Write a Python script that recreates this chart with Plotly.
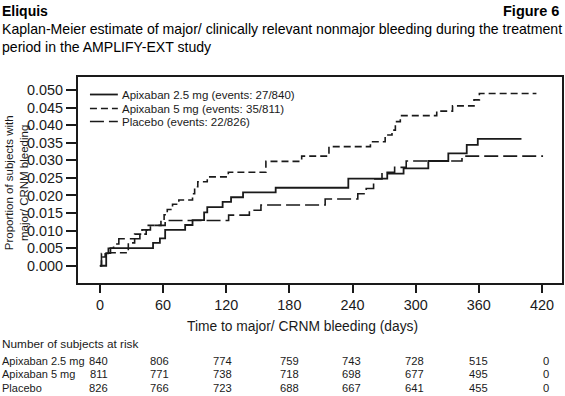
import plotly.graph_objects as go

# ---- data ----
days_25 = [0, 6, 10, 50.5, 57, 62, 81, 88, 99, 102, 116.6, 124.6, 136, 167, 236, 273, 288.5, 312, 331, 348.5, 359, 400.5]
cum_25 = [0, 0.0036, 0.0050, 0.0065, 0.0078, 0.0102, 0.0116, 0.0130, 0.0152, 0.0167, 0.0182, 0.0195, 0.0209, 0.0222, 0.0248, 0.0262, 0.0277, 0.0298, 0.0320, 0.0344, 0.0361, 0.0361]

days_5 = [0, 1.5, 5, 27, 33, 40, 45, 58, 61, 64, 69, 75, 88, 90, 93, 102, 122, 157.7, 191.7, 217.6, 257, 271, 277.5, 280.7, 285.4, 320, 335, 355.4, 360.5, 414.7]
cum_5 = [0, 0.0025, 0.0037, 0.0065, 0.0090, 0.0102, 0.0115, 0.0130, 0.0145, 0.0160, 0.0175, 0.0187, 0.0205, 0.0225, 0.0239, 0.0253, 0.0266, 0.0297, 0.0312, 0.0339, 0.0353, 0.0372, 0.0386, 0.0410, 0.0427, 0.0440, 0.0455, 0.0472, 0.0490, 0.0490]

days_pl = [0, 1.5, 8, 13, 18, 38, 44, 48, 62, 122.3, 142, 153, 214, 245, 253, 260, 268, 280, 291, 344, 421]
cum_pl = [0, 0.0035, 0.0050, 0.0062, 0.0077, 0.0090, 0.0102, 0.0115, 0.0129, 0.0144, 0.0158, 0.0173, 0.0190, 0.0205, 0.0220, 0.0247, 0.0266, 0.0280, 0.0298, 0.0312, 0.0312]

series_names = ["Apixaban 2.5 mg (events: 27/840)",
                "Apixaban 5 mg (events: 35/811)",
                "Placebo (events: 22/826)"]
row_labels = ["Apixaban 2.5 mg", "Apixaban 5 mg", "Placebo"]

atrisk_times = [0, 60, 120, 180, 240, 300, 360, 420]
atrisk_25 = [840, 806, 774, 759, 743, 728, 515, 0]
atrisk_5 = [811, 771, 738, 718, 698, 677, 495, 0]
atrisk_pl = [826, 766, 723, 688, 667, 641, 455, 0]

x_ticks = [0, 60, 120, 180, 240, 300, 360, 420]
y_ticks = [0.000, 0.005, 0.010, 0.015, 0.020, 0.025, 0.030, 0.035, 0.040, 0.045, 0.050]

# ---- styling ----
FONT = "Liberation Sans, Arial, sans-serif"
INK = "#1a1a1a"
styles = [dict(color=INK, width=1.8, dash="solid"),
          dict(color=INK, width=1.6, dash="7px,4px"),
          dict(color=INK, width=1.6, dash="14px,5px")]
col_shift = [-1, -4, -4, 0, -1, -1, 0, 4]   # pixel nudges of the at-risk columns

fig = go.Figure()
for xs, ys, name, st in zip([days_25, days_5, days_pl], [cum_25, cum_5, cum_pl], series_names, styles):
    fig.add_trace(go.Scatter(x=xs, y=ys, mode="lines", line=dict(shape="hv", **st),
                             name=name, showlegend=False, hoverinfo="skip"))

W, H = 565, 396
ml, mr, mt, mb = 78, 1, 77, 113
pw, ph = W - ml - mr, H - mt - mb

def px(xp):
    return (xp - ml) / pw

def py(yp):
    return (H - mb - yp) / ph

annotations = []
shapes = []

def label(text, x, y, size, anchor="left", **kw):
    annotations.append(dict(text=text, xref="paper", yref="paper", x=px(x), y=py(y),
                            xanchor=anchor, yanchor="middle", showarrow=False,
                            font=dict(family=FONT, size=size, color=kw.pop("color", INK)), **kw))

# manual legend
leg_rows = [94.5, 108.5, 121.5]
for name, st, yr in zip(series_names, styles, leg_rows):
    shapes.append(dict(type="line", xref="paper", yref="paper", x0=px(90), x1=px(118),
                       y0=py(yr), y1=py(yr), line=dict(color=INK, width=st["width"], dash=st["dash"])))
    label(name, 120, yr, 11.5)

# titles
label("<b>Eliquis</b>", 0, 11, 14, color="#000")
label("<b>Figure 6</b>", 563, 11, 14.5, anchor="right", color="#000")
label("Kaplan-Meier estimate of major/ clinically relevant nonmajor bleeding during the treatment", 0, 29, 14.1, color="#000")
label("period in the AMPLIFY-EXT study", 0, 47, 14.1, color="#000")

# axis titles
label("Proportion of subjects with<br>major/ CRNM bleeding", 16, 183, 11.5, anchor="center", textangle=-90)
label("Time to major/ CRNM bleeding (days)", 303, 326, 13.8, anchor="center")

# at-risk table
label("Number of subjects at risk", 0, 344, 11.8)
for lab, vals, yr in zip(row_labels, [atrisk_25, atrisk_5, atrisk_pl], [360.5, 374, 387.5]):
    label(lab, 0, yr, 11)
    for t, v, sh in zip(atrisk_times, vals, col_shift):
        annotations.append(dict(text=str(v), xref="x", yref="paper", x=t, y=py(yr), xshift=sh,
                                xanchor="center", yanchor="middle", showarrow=False,
                                font=dict(family=FONT, size=11.2, color=INK)))

fig.update_layout(
    width=W, height=H,
    margin=dict(l=ml, r=mr, t=mt, b=mb, pad=0),
    paper_bgcolor="white", plot_bgcolor="white",
    showlegend=False,
    font=dict(family=FONT, color=INK),
    annotations=annotations, shapes=shapes,
    xaxis=dict(range=[-20.8, 439], tickvals=x_ticks, ticks="outside", ticklen=8, tickwidth=1.5,
               tickcolor=INK, showgrid=False, zeroline=False, showline=True, mirror=True,
               linecolor=INK, linewidth=2, tickfont=dict(family=FONT, size=14.4, color=INK)),
    yaxis=dict(range=[-0.0049, 0.0537], tickvals=y_ticks, tickformat=".3f", ticks="outside",
               ticklen=10, tickwidth=1.5, tickcolor=INK, showgrid=False, zeroline=False,
               showline=True, mirror=True, linecolor=INK, linewidth=2,
               tickfont=dict(family=FONT, size=14.4, color=INK)),
)

fig.write_html("out.html", config={"displayModeBar": False},
               post_script="document.body.style.margin='0';document.body.style.padding='0';")
